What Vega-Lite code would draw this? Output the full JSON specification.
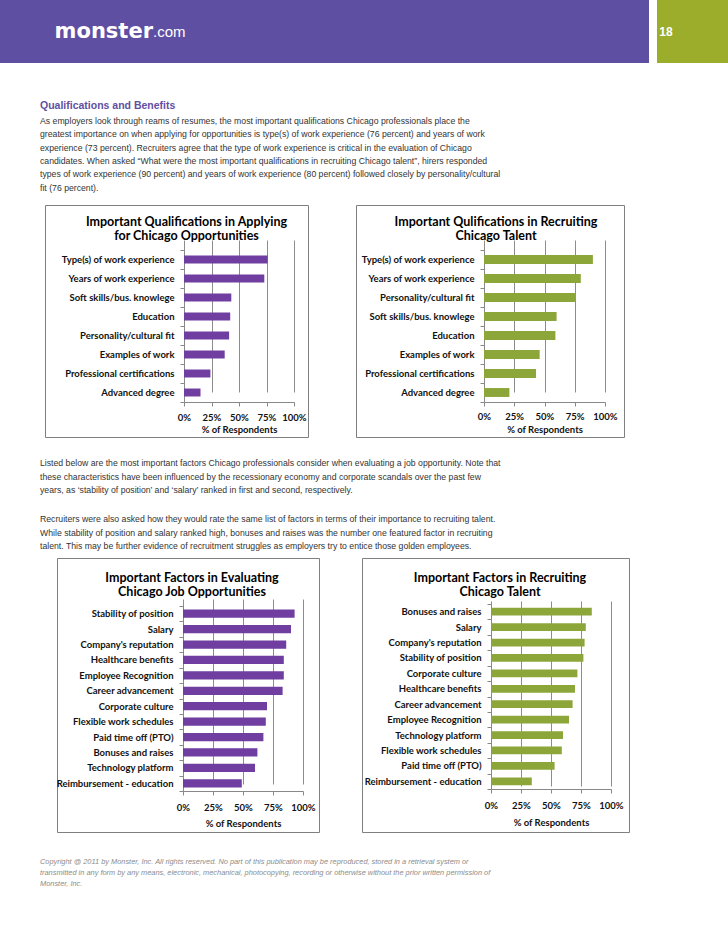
{
  "$schema": "https://vega.github.io/schema/vega-lite/v6.json",
  "padding": 0,
  "background": "white",
  "spacing": 0,
  "config": {"view": {"stroke": null}, "concat": {"spacing": 0}, "font": "Liberation Sans"},
  "datasets": {
    "applying": [
      {"item": "Type(s) of work experience", "pct": 76},
      {"item": "Years of work experience", "pct": 73},
      {"item": "Soft skills/bus. knowlege", "pct": 43},
      {"item": "Education", "pct": 42},
      {"item": "Personality/cultural fit", "pct": 41},
      {"item": "Examples of work", "pct": 37},
      {"item": "Professional certifications", "pct": 24},
      {"item": "Advanced degree", "pct": 15}
    ],
    "recruitingq": [
      {"item": "Type(s) of work experience", "pct": 90},
      {"item": "Years of work experience", "pct": 80},
      {"item": "Personality/cultural fit", "pct": 76},
      {"item": "Soft skills/bus. knowlege", "pct": 60},
      {"item": "Education", "pct": 59},
      {"item": "Examples of work", "pct": 46},
      {"item": "Professional certifications", "pct": 43},
      {"item": "Advanced degree", "pct": 21}
    ],
    "evaluating": [
      {"item": "Stability of position", "pct": 93},
      {"item": "Salary", "pct": 90},
      {"item": "Company's reputation", "pct": 86},
      {"item": "Healthcare benefits", "pct": 84},
      {"item": "Employee Recognition", "pct": 84},
      {"item": "Career advancement", "pct": 83},
      {"item": "Corporate culture", "pct": 70},
      {"item": "Flexible work schedules", "pct": 69},
      {"item": "Paid time off (PTO)", "pct": 67},
      {"item": "Bonuses and raises", "pct": 62},
      {"item": "Technology platform", "pct": 60},
      {"item": "Reimbursement - education", "pct": 49}
    ],
    "recruitingf": [
      {"item": "Bonuses and raises", "pct": 84},
      {"item": "Salary", "pct": 79},
      {"item": "Company's reputation", "pct": 78},
      {"item": "Stability of position", "pct": 77},
      {"item": "Corporate culture", "pct": 72},
      {"item": "Healthcare benefits", "pct": 70},
      {"item": "Career advancement", "pct": 68},
      {"item": "Employee Recognition", "pct": 65},
      {"item": "Technology platform", "pct": 60},
      {"item": "Flexible work schedules", "pct": 59},
      {"item": "Paid time off (PTO)", "pct": 53},
      {"item": "Reimbursement - education", "pct": 34}
    ]
  },
  "vconcat": [
    {
      "spacing": 0,
      "bounds": "flush",
      "hconcat": [
        {
          "width": 306, "height": 63,
          "view": {"fill": "#5f4fa3"},
          "data": {"values": [{"a": "monster", "b": ".com"}]},
          "layer": [
            {"mark": {"type": "text", "align": "right", "baseline": "middle", "font": "DejaVu Sans", "fontWeight": "bold", "fontSize": 21, "color": "white"}, "encoding": {"text": {"field": "a", "type": "nominal"}}},
            {"mark": {"type": "text", "align": "left", "baseline": "middle", "font": "Liberation Sans", "fontSize": 15, "color": "white"}, "encoding": {"text": {"field": "b", "type": "nominal"}}}
          ]
        },
        {"width": 343, "height": 63, "view": {"fill": "#5f4fa3"}, "data": {"values": []}, "mark": "point"},
        {"width": 8, "height": 63, "data": {"values": []}, "mark": "point"},
        {"width": 18, "height": 63, "view": {"fill": "#9bad2b"}, "data": {"values": [{"p": "18"}]}, "mark": {"type": "text", "baseline": "middle", "font": "Liberation Sans", "fontWeight": "bold", "fontSize": 12, "color": "white"}, "encoding": {"text": {"field": "p", "type": "nominal"}}},
        {"width": 53, "height": 63, "view": {"fill": "#9bad2b"}, "data": {"values": []}, "mark": "point"}
      ]
    },
    {"width": 10, "height": 38, "data": {"values": []}, "mark": "point"},
    {
      "width": 80, "height": 2,
      "data": {"values": [{"t": "Qualifications and Benefits"}]},
      "mark": {"type": "text", "align": "left", "baseline": "alphabetic", "font": "Liberation Sans", "fontWeight": "bold", "fontSize": 10.5, "color": "#5f4fa3"},
      "encoding": {"text": {"field": "t", "type": "nominal"}}
    },
    {"width": 10, "height": 4.5, "data": {"values": []}, "mark": "point"},
    {
      "width": 80, "height": 2,
      "data": {"values": [{"t": "As employers look through reams of resumes, the most important qualifications Chicago professionals place the\ngreatest importance on when applying for opportunities is type(s) of work experience (76 percent) and years of work\nexperience (73 percent). Recruiters agree that the type of work experience is critical in the evaluation of Chicago\ncandidates. When asked “What were the most important qualifications in recruiting Chicago talent”, hirers responded\ntypes of work experience (90 percent) and years of work experience (80 percent) followed closely by personality/cultural\nfit (76 percent)."}]},
      "mark": {"type": "text", "align": "left", "baseline": "alphabetic", "lineBreak": "\n", "lineHeight": 13.35, "font": "Liberation Sans", "fontSize": 8.7, "color": "#333333"},
      "encoding": {"text": {"field": "t", "type": "nominal"}}
    },
    {"width": 10, "height": 6, "data": {"values": []}, "mark": "point"},
    {
      "spacing": 0,
      "bounds": "flush",
      "hconcat": [
        {"width": 45, "height": 1, "data": {"values": []}, "mark": "point"},
        {
          "width": 263, "height": 232,
          "view": {"stroke": "#7f7f7f", "strokeWidth": 1, "fill": "white"},
          "title": {"text": ["Important Qualifications in Applying", "for Chicago Opportunities"], "font": "Lato", "fontSize": 12.5, "fontWeight": "bold", "color": "#000000", "anchor": "middle", "frame": "group", "baseline": "top", "lineHeight": 14, "offset": -42.7, "dx": 10},
          "data": {"name": "applying"},
          "mark": {"type": "bar", "color": "#6f3ea0", "height": {"band": 0.42}},
          "encoding": {
            "y": {"field": "item", "type": "nominal", "sort": null, "scale": {"range": [45, 197], "paddingInner": 0, "paddingOuter": 0},
                  "axis": {"title": null, "offset": -139, "tickBand": "extent", "domainColor": "#888888", "tickColor": "#888888", "tickSize": 4, "labelPadding": 6, "labelFont": "Lato", "labelFontSize": 9.5, "labelFontWeight": "bold", "labelColor": "#111111", "labelLimit": 200, "grid": false}},
            "x": {"field": "pct", "type": "quantitative", "scale": {"domain": [0, 100], "range": [139, 249], "nice": false},
                  "axis": {"values": [0, 25, 50, 75, 100], "labelExpr": "datum.value + '%'", "title": "% of Respondents", "offset": -35, "grid": true, "gridColor": "#8c8c8c", "domainColor": "#888888", "tickColor": "#888888", "tickSize": 4, "labelPadding": 6, "labelFont": "Lato", "labelFontSize": 9.5, "labelFontWeight": "bold", "labelColor": "#111111", "labelOverlap": false, "labelFlush": false, "titleFont": "Lato", "titleFontSize": 9.5, "titleFontWeight": "bold", "titleColor": "#111111", "titlePadding": 3}}
          }
        },
        {"width": 48, "height": 1, "data": {"values": []}, "mark": "point"},
        {
          "width": 268, "height": 232,
          "view": {"stroke": "#7f7f7f", "strokeWidth": 1, "fill": "white"},
          "title": {"text": ["Important Qulifications in Recruiting", "Chicago Talent"], "font": "Lato", "fontSize": 12.5, "fontWeight": "bold", "color": "#000000", "anchor": "middle", "frame": "group", "baseline": "top", "lineHeight": 14, "offset": -42.7, "dx": 6},
          "data": {"name": "recruitingq"},
          "mark": {"type": "bar", "color": "#8da63a", "height": {"band": 0.47}},
          "encoding": {
            "y": {"field": "item", "type": "nominal", "sort": null, "scale": {"range": [45, 197], "paddingInner": 0, "paddingOuter": 0},
                  "axis": {"title": null, "offset": -128, "tickBand": "extent", "domainColor": "#888888", "tickColor": "#888888", "tickSize": 4, "labelPadding": 6, "labelFont": "Lato", "labelFontSize": 9.5, "labelFontWeight": "bold", "labelColor": "#111111", "labelLimit": 200, "grid": false}},
            "x": {"field": "pct", "type": "quantitative", "scale": {"domain": [0, 100], "range": [128, 249], "nice": false},
                  "axis": {"values": [0, 25, 50, 75, 100], "labelExpr": "datum.value + '%'", "title": "% of Respondents", "offset": -35, "grid": true, "gridColor": "#8c8c8c", "domainColor": "#888888", "tickColor": "#888888", "tickSize": 4, "labelPadding": 5, "labelFont": "Lato", "labelFontSize": 9.5, "labelFontWeight": "bold", "labelColor": "#111111", "labelOverlap": false, "labelFlush": false, "titleFont": "Lato", "titleFontSize": 9.5, "titleFontWeight": "bold", "titleColor": "#111111", "titlePadding": 4}}
          }
        }
      ]
    },
    {"width": 10, "height": 20.5, "data": {"values": []}, "mark": "point"},
    {
      "width": 80, "height": 2,
      "data": {"values": [{"t": "Listed below are the most important factors Chicago professionals consider when evaluating a job opportunity. Note that\nthese characteristics have been influenced by the recessionary economy and corporate scandals over the past few\nyears, as ‘stability of position’ and ‘salary’ ranked in first and second, respectively."}]},
      "mark": {"type": "text", "align": "left", "baseline": "alphabetic", "lineBreak": "\n", "lineHeight": 13.67, "font": "Liberation Sans", "fontSize": 8.7, "color": "#333333"},
      "encoding": {"text": {"field": "t", "type": "nominal"}}
    },
    {"width": 10, "height": 18.66, "data": {"values": []}, "mark": "point"},
    {
      "width": 80, "height": 2,
      "data": {"values": [{"t": "Recruiters were also asked how they would rate the same list of factors in terms of their importance to recruiting talent.\nWhile stability of position and salary ranked high, bonuses and raises was the number one featured factor in recruiting\ntalent. This may be further evidence of recruitment struggles as employers try to entice those golden employees."}]},
      "mark": {"type": "text", "align": "left", "baseline": "alphabetic", "lineBreak": "\n", "lineHeight": 13.67, "font": "Liberation Sans", "fontSize": 8.7, "color": "#333333"},
      "encoding": {"text": {"field": "t", "type": "nominal"}}
    },
    {
      "spacing": 0,
      "bounds": "flush",
      "hconcat": [
        {"width": 57, "height": 1, "data": {"values": []}, "mark": "point"},
        {
          "width": 262, "height": 274,
          "view": {"stroke": "#7f7f7f", "strokeWidth": 1, "fill": "white"},
          "title": {"text": ["Important Factors in Evaluating", "Chicago Job Opportunities"], "font": "Lato", "fontSize": 12.5, "fontWeight": "bold", "color": "#000000", "anchor": "middle", "frame": "group", "baseline": "top", "lineHeight": 14, "offset": -45.2, "dx": 4},
          "data": {"name": "evaluating"},
          "mark": {"type": "bar", "color": "#6f3ea0", "height": {"band": 0.54}},
          "encoding": {
            "y": {"field": "item", "type": "nominal", "sort": null, "scale": {"range": [48, 233], "paddingInner": 0, "paddingOuter": 0},
                  "axis": {"title": null, "offset": -126, "tickBand": "extent", "domainColor": "#888888", "tickColor": "#888888", "tickSize": 4, "labelPadding": 6, "labelFont": "Lato", "labelFontSize": 9.5, "labelFontWeight": "bold", "labelColor": "#111111", "labelLimit": 200, "grid": false}},
            "x": {"field": "pct", "type": "quantitative", "scale": {"domain": [0, 100], "range": [126, 246], "nice": false},
                  "axis": {"values": [0, 25, 50, 75, 100], "labelExpr": "datum.value + '%'", "title": "% of Respondents", "offset": -41, "grid": true, "gridColor": "#8c8c8c", "domainColor": "#888888", "tickColor": "#888888", "tickSize": 4, "labelPadding": 7, "labelFont": "Lato", "labelFontSize": 9.5, "labelFontWeight": "bold", "labelColor": "#111111", "labelOverlap": false, "labelFlush": false, "titleFont": "Lato", "titleFontSize": 9.5, "titleFontWeight": "bold", "titleColor": "#111111", "titlePadding": 7}}
          }
        },
        {"width": 43, "height": 1, "data": {"values": []}, "mark": "point"},
        {
          "width": 267, "height": 274,
          "view": {"stroke": "#7f7f7f", "strokeWidth": 1, "fill": "white"},
          "title": {"text": ["Important Factors in Recruiting", "Chicago Talent"], "font": "Lato", "fontSize": 12.5, "fontWeight": "bold", "color": "#000000", "anchor": "middle", "frame": "group", "baseline": "top", "lineHeight": 14, "offset": -45.7, "dx": 4.5},
          "data": {"name": "recruitingf"},
          "mark": {"type": "bar", "color": "#8da63a", "height": {"band": 0.5}},
          "encoding": {
            "y": {"field": "item", "type": "nominal", "sort": null, "scale": {"range": [46, 231], "paddingInner": 0, "paddingOuter": 0},
                  "axis": {"title": null, "offset": -129, "tickBand": "extent", "domainColor": "#888888", "tickColor": "#888888", "tickSize": 4, "labelPadding": 6, "labelFont": "Lato", "labelFontSize": 9.5, "labelFontWeight": "bold", "labelColor": "#111111", "labelLimit": 200, "grid": false}},
            "x": {"field": "pct", "type": "quantitative", "scale": {"domain": [0, 100], "range": [129, 249], "nice": false},
                  "axis": {"values": [0, 25, 50, 75, 100], "labelExpr": "datum.value + '%'", "title": "% of Respondents", "offset": -43, "grid": true, "gridColor": "#8c8c8c", "domainColor": "#888888", "tickColor": "#888888", "tickSize": 4, "labelPadding": 7, "labelFont": "Lato", "labelFontSize": 9.5, "labelFontWeight": "bold", "labelColor": "#111111", "labelOverlap": false, "labelFlush": false, "titleFont": "Lato", "titleFontSize": 9.5, "titleFontWeight": "bold", "titleColor": "#111111", "titlePadding": 8}}
          }
        }
      ]
    },
    {"width": 10, "height": 24.5, "data": {"values": []}, "mark": "point"},
    {
      "width": 80, "height": 2,
      "data": {"values": [{"t": "Copyright @ 2011 by Monster, Inc. All rights reserved. No part of this publication may be reproduced, stored in a retrieval system or\ntransmitted in any form by any means, electronic, mechanical, photocopying, recording or otherwise without the prior written permission of\nMonster, Inc."}]},
      "mark": {"type": "text", "align": "left", "baseline": "alphabetic", "lineBreak": "\n", "lineHeight": 11.2, "font": "Liberation Sans", "fontStyle": "italic", "fontSize": 7.4, "color": "#8c8c8c"},
      "encoding": {"text": {"field": "t", "type": "nominal"}}
    },
    {"width": 10, "height": 56, "data": {"values": []}, "mark": "point"}
  ]
}
